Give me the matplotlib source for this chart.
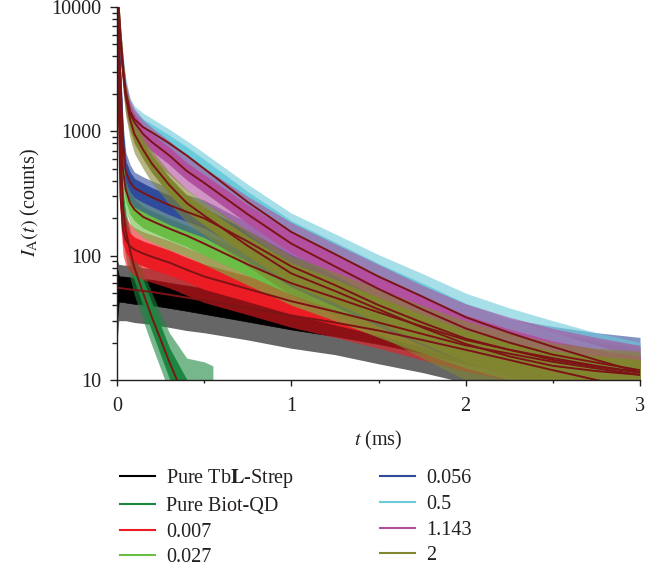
import matplotlib
matplotlib.use("Agg")
import matplotlib.pyplot as plt
from matplotlib.lines import Line2D
from matplotlib.ticker import NullFormatter, LogLocator

# time grid (ms) shared by the fits and the noisy data envelopes
t_ms = [0, 0.01, 0.02, 0.035, 0.05, 0.075, 0.1, 0.15, 0.2, 0.3, 0.4, 0.5, 0.75,
        1.0, 1.25, 1.5, 1.75, 2.0, 2.25, 2.5, 2.75, 3.0]
t_qd = [0, 0.01, 0.02, 0.035, 0.05, 0.075, 0.1, 0.15, 0.2, 0.3, 0.4, 0.5, 0.55]

labels = ["Pure Tb$\\mathbf{L}$-Strep", "Pure Biot-QD", "0.007", "0.027", "0.056", "0.5", "1.143", "2"]
colors = ["#000000", "#1d8740", "#ec1c24", "#6cbd45", "#2f4b9c", "#6ccbdb", "#b24f9e", "#828530"]

# --- Pure TbL-Strep
fit_tbl = [55, 55, 54.7, 54.5, 54, 53.5, 53, 52, 51, 48.5, 46, 43.5, 38, 33, 29, 25, 21, 17.5, 14.5, 12, 10, 8.5]
core_lo_tbl = [30, 43, 42.5, 42.5, 42, 41.5, 41, 40.5, 40, 38, 36, 34, 29.5, 25.5, 22.5, 19.5, 16.5, 13.5, 11.3, 9.4, 7.8, 6.6]
core_hi_tbl = [80, 69, 68, 68, 67.5, 67, 66, 65, 64, 60.5, 57.5, 54.5, 47.5, 41, 36, 31, 26, 22, 18, 15, 12.5, 10.5]
spike_lo_tbl = [20, 30, 30, 30, 30, 29.5, 29, 28.5, 28, 26.5, 25, 24, 21, 18, 16, 13.5, 11.5, 9.5, 8, 6.6, 5.5, 4.7]
spike_hi_tbl = [95, 85, 85, 84, 84, 83, 82, 80, 79, 75, 71, 67, 59, 51, 45, 39, 32.5, 27, 22.5, 18.6, 15.5, 13]

# --- Pure Biot-QD
fit_qd = [15000, 2500, 700, 240, 160, 110, 80, 50, 32, 14, 6.5, 3, 2]
core_lo_qd = [6000, 2000, 560, 190, 128, 88, 64, 40, 25, 10.5, 5, 3, 2]
core_hi_qd = [15000, 3100, 870, 300, 200, 138, 100, 63, 41, 18, 10, 6, 4]
spike_lo_qd = [3000, 1500, 420, 145, 97, 66, 48, 30, 19, 8, 4, 2.5, 2]
spike_hi_qd = [16000, 3600, 1000, 350, 235, 160, 118, 75, 50, 24, 15, 14, 13]

# --- 0.007
fit_007 = [15000, 1500, 300, 160, 135, 119, 112, 104, 98, 88, 77, 68, 54, 43, 35.5, 29, 23.5, 19, 16.3, 14, 12.4, 11]
core_lo_007 = [8000, 1200, 240, 128, 108, 95, 90, 83, 78, 70, 62, 54, 43, 34, 28, 23, 18.5, 15, 12.8, 11, 9.8, 8.7]
core_hi_007 = [16000, 1900, 375, 200, 170, 150, 140, 130, 123, 110, 96, 85, 68, 54, 44.5, 36.5, 29.5, 24, 20.5, 17.5, 15.5, 14]
spike_lo_007 = [4000, 930, 185, 100, 84, 74, 69, 64, 61, 55, 48, 42, 33.5, 26.5, 22, 18, 14.5, 11.8, 10, 8.7, 7.7, 6.8]
spike_hi_007 = [17000, 2300, 450, 240, 205, 180, 168, 156, 147, 132, 116, 103, 83, 67, 56, 47, 38, 31, 27, 23, 20, 18]

# --- 0.027
fit_027 = [15000, 4000, 1300, 480, 340, 265, 235, 205, 190, 165, 145, 125, 85, 60, 46, 35, 27, 21, 17.5, 15, 13, 11.5]
core_lo_027 = [8000, 3300, 1070, 395, 280, 218, 193, 168, 156, 135, 119, 102, 70, 49, 37, 28, 21, 16.5, 13.5, 11.5, 10, 8.8]
core_hi_027 = [16000, 4800, 1560, 575, 408, 318, 282, 246, 228, 198, 174, 150, 104, 75, 58, 45, 35, 27.5, 23, 20, 17.5, 15.5]
spike_lo_027 = [5000, 2700, 880, 325, 230, 180, 160, 140, 129, 112, 99, 85, 58, 40, 30, 22, 16.5, 12.5, 10, 8.5, 7.5, 6.5]
spike_hi_027 = [17000, 5600, 1820, 670, 475, 370, 330, 287, 266, 231, 203, 178, 125, 92, 72, 56, 44, 34, 28, 24, 21, 19]

# --- 0.056
fit_056 = [15000, 5500, 2500, 800, 480, 390, 350, 320, 295, 255, 225, 200, 130, 82, 58, 40, 29, 21.5, 17.5, 14.5, 12.8, 11.5]
core_lo_056 = [8000, 4500, 2100, 680, 405, 330, 295, 270, 250, 215, 190, 168, 109, 68, 48, 33, 23.5, 17.5, 14, 11.5, 10, 9]
core_hi_056 = [16000, 6500, 2950, 950, 570, 465, 415, 380, 350, 305, 268, 240, 158, 101, 72, 50, 37, 27.5, 22.5, 19, 17, 15]
spike_lo_056 = [5000, 3700, 1700, 560, 335, 275, 245, 225, 207, 178, 157, 140, 90, 56, 39, 27, 19, 14, 11, 9, 8, 7]
spike_hi_056 = [17000, 7500, 3400, 1150, 680, 540, 470, 430, 400, 350, 310, 280, 185, 120, 88, 64, 48, 37, 31, 27, 24, 22]

# --- 0.5
fit_05 = [15000, 9000, 5500, 3200, 2100, 1450, 1250, 1080, 980, 800, 640, 500, 270, 155, 103, 68, 47, 32, 24, 18.5, 14.5, 11.5]
core_lo_05 = [13000, 7700, 4700, 2700, 1800, 1230, 1060, 920, 830, 680, 545, 425, 230, 132, 88, 58, 40, 27, 20, 15.5, 12, 9.5]
core_hi_05 = [16000, 10300, 6300, 3700, 2400, 1670, 1440, 1250, 1130, 925, 745, 590, 325, 190, 128, 86, 60, 41, 31, 24, 19, 15]
spike_lo_05 = [12000, 6500, 4000, 2300, 1500, 1050, 900, 780, 700, 570, 455, 355, 190, 105, 70, 46, 31, 21, 15, 11.5, 9, 7]
spike_hi_05 = [17000, 11500, 7000, 4100, 2700, 1850, 1600, 1400, 1270, 1040, 840, 670, 375, 220, 150, 102, 72, 50, 38, 30, 24, 20]

# --- 1.143
fit_1143 = [15000, 9000, 5500, 3000, 1950, 1400, 1180, 950, 820, 640, 480, 385, 215, 125, 82, 54, 37, 26, 20, 16, 13.8, 12]
core_lo_1143 = [13000, 7700, 4700, 2550, 1660, 1190, 1000, 810, 700, 545, 410, 325, 183, 106, 70, 46, 31, 22, 17, 13.5, 11.5, 10]
core_hi_1143 = [16000, 10300, 6300, 3450, 2250, 1610, 1360, 1090, 945, 740, 555, 445, 255, 152, 102, 68, 47, 33, 25.5, 20.5, 17.5, 15.5]
spike_lo_1143 = [12000, 6500, 3900, 2100, 1370, 980, 830, 665, 575, 450, 335, 270, 150, 86, 56, 37, 25, 17.5, 13.5, 10.5, 9, 8]
spike_hi_1143 = [17000, 11500, 7000, 3800, 2500, 1800, 1520, 1230, 1070, 840, 630, 510, 300, 185, 125, 85, 58, 41, 32, 26, 22, 19]

# --- 2
fit_2 = [15000, 9000, 5500, 3000, 1900, 1250, 950, 710, 550, 370, 265, 210, 120, 72, 52, 37, 26.5, 19.5, 15.5, 13, 11.8, 11]
core_lo_2 = [13000, 7700, 4700, 2550, 1620, 1060, 810, 605, 470, 315, 225, 178, 100, 59, 42, 29, 20, 14, 11, 9, 8, 7.5]
core_hi_2 = [16000, 10300, 6300, 3450, 2180, 1440, 1090, 815, 635, 425, 305, 245, 142, 87, 64, 46, 33.5, 25, 20, 17, 15.5, 14.5]
spike_lo_2 = [12000, 6500, 3900, 2100, 1330, 875, 665, 500, 385, 260, 185, 147, 82, 48, 33, 23, 15, 10, 7.5, 6, 5.5, 5]
spike_hi_2 = [17000, 11500, 7000, 3800, 2400, 1580, 1200, 900, 700, 470, 340, 272, 160, 100, 74, 54, 40, 30, 24, 20, 18, 17]

x_ticks = [0, 1, 2, 3]
x_minor = [0.5, 1.5, 2.5]
y_ticks = [10, 100, 1000, 10000]
y_ticklabels = ["10", "100", "1000", "10000"]

FIT_COLOR = "#7c1416"
TEXT_COLOR = "#231f20"
FS = 14.5

plt.rcParams["font.family"] = "Liberation Serif"
plt.rcParams["mathtext.fontset"] = "stix"


def main():
    fig = plt.figure(figsize=(6.7, 5.71), dpi=100)
    ax = fig.add_axes([117 / 670, 1 - 380 / 571, 523 / 670, 373 / 571])

    times = [t_qd if i == 1 else t_ms for i in range(8)]
    fits = [fit_tbl, fit_qd, fit_007, fit_027, fit_056, fit_05, fit_1143, fit_2]
    core_lo = [core_lo_tbl, core_lo_qd, core_lo_007, core_lo_027, core_lo_056, core_lo_05, core_lo_1143, core_lo_2]
    core_hi = [core_hi_tbl, core_hi_qd, core_hi_007, core_hi_027, core_hi_056, core_hi_05, core_hi_1143, core_hi_2]
    spike_lo = [spike_lo_tbl, spike_lo_qd, spike_lo_007, spike_lo_027, spike_lo_056, spike_lo_05, spike_lo_1143, spike_lo_2]
    spike_hi = [spike_hi_tbl, spike_hi_qd, spike_hi_007, spike_hi_027, spike_hi_056, spike_hi_05, spike_hi_1143, spike_hi_2]

    # noisy measured traces: faint band for the spikes, solid band for the dense core
    for i in range(8):
        c = colors[i]
        ax.fill_between(times[i], spike_lo[i], spike_hi[i], color=c, alpha=0.6, lw=0)
        ax.fill_between(times[i], core_lo[i], core_hi[i], color=c, lw=0.5, edgecolor=c)

    for t, f in zip(times, fits):
        ax.plot(t, f, color=FIT_COLOR, lw=1.4)

    ax.set_yscale("log")
    ax.set_xlim(0, 3)
    ax.set_ylim(10, 10000)
    ax.set_xticks(x_ticks)
    ax.set_xticks(x_minor, minor=True)
    ax.set_yticks(y_ticks)
    ax.set_yticklabels(y_ticklabels)
    ax.yaxis.set_minor_locator(LogLocator(base=10, subs=range(2, 10)))
    ax.yaxis.set_minor_formatter(NullFormatter())

    for side in ["top", "right"]:
        ax.spines[side].set_visible(False)
    for side in ["left", "bottom"]:
        ax.spines[side].set_color(TEXT_COLOR)
        ax.spines[side].set_linewidth(1.0)
    ax.tick_params(which="both", direction="out", width=1, colors=TEXT_COLOR, labelsize=FS)
    ax.tick_params(axis="y", which="major", length=5, pad=6)
    ax.tick_params(axis="y", which="minor", length=3.5)
    ax.tick_params(axis="x", which="major", length=4, pad=8)
    ax.tick_params(axis="x", which="minor", length=2.5)

    ax.set_xlabel("$t$ (ms)", fontsize=FS, color=TEXT_COLOR)
    ax.xaxis.label.set_va("center")
    ax.xaxis.set_label_coords(0.5, (380 - 440) / 373)
    ax.set_ylabel("$I_\\mathrm{A}(t)$ (counts)", fontsize=FS, color=TEXT_COLOR)
    ax.yaxis.label.set_va("center")
    ax.yaxis.set_label_coords((30 - 117) / 523, (380 - 203) / 373)

    handles = [Line2D([], [], color=c, lw=1.5) for c in colors]
    fig.legend(handles, labels, loc="upper left", bbox_to_anchor=(110 / 670, 1 - 457 / 571),
               ncol=2, frameon=False, fontsize=FS, handlelength=1.75, handletextpad=0.55,
               columnspacing=4.25, labelspacing=0.33, borderpad=0, labelcolor=TEXT_COLOR)

    fig.savefig("out.png", dpi=100)


if __name__ == "__main__":
    main()
